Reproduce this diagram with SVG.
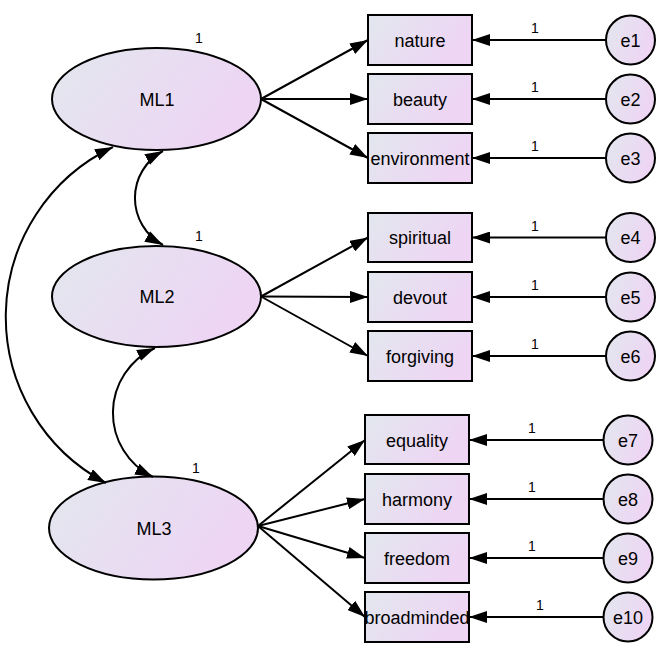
<svg xmlns="http://www.w3.org/2000/svg" width="664" height="651" viewBox="0 0 664 651">
<defs>
<linearGradient id="g" x1="0" y1="0" x2="1" y2="0.35">
<stop offset="0" stop-color="#e2e7ee"/>
<stop offset="1" stop-color="#eed5f4"/>
</linearGradient>
<marker id="ah" markerUnits="userSpaceOnUse" markerWidth="18" markerHeight="12" refX="18" refY="6" orient="auto-start-reverse" viewBox="0 0 18 12">
<path d="M0,0 L18,6 L0,12 z" fill="#000"/>
</marker>
<style>
.lat{fill:url(#g);stroke:#000;stroke-width:2}
.box{fill:url(#g);stroke:#000;stroke-width:2}
.err{fill:url(#g);stroke:#000;stroke-width:2}
.t{font-family:"Liberation Sans",Arial,sans-serif;font-size:18px;fill:#000;text-anchor:middle}
.n{font-family:"Liberation Sans",Arial,sans-serif;font-size:14px;fill:#000;text-anchor:middle}
.c{fill:none;stroke:#000;stroke-width:2}
.a{fill:none;stroke:#000;stroke-width:2;marker-end:url(#ah)}
.d{fill:none;stroke:#000;stroke-width:2;marker-start:url(#ah);marker-end:url(#ah)}
</style>
</defs>
<g id="nodes">
<g id="ML1"><ellipse class="lat" cx="156.5" cy="99" rx="104.5" ry="51"/><text class="t" x="157" y="105.5">ML1</text><text class="n" x="199" y="43">1</text></g>
<g id="ML2"><ellipse class="lat" cx="156.5" cy="296.5" rx="104.5" ry="50.5"/><text class="t" x="157" y="303">ML2</text><text class="n" x="199" y="241">1</text></g>
<g id="ML3"><ellipse class="lat" cx="153.5" cy="528" rx="104.5" ry="51.5"/><text class="t" x="154" y="534.5">ML3</text><text class="n" x="196" y="473">1</text></g>

<g id="nature"><rect class="box" x="368" y="15" width="104" height="50"/><text class="t" x="420" y="46.5">nature</text></g>
<g id="beauty"><rect class="box" x="368" y="74" width="104" height="50"/><text class="t" x="420" y="105.5">beauty</text></g>
<g id="environment"><rect class="box" x="368" y="133" width="104" height="50"/><text class="t" x="420" y="164.5">environment</text></g>
<g id="spiritual"><rect class="box" x="368" y="213" width="104" height="49"/><text class="t" x="420" y="244">spiritual</text></g>
<g id="devout"><rect class="box" x="368" y="272" width="104" height="50"/><text class="t" x="420" y="303.5">devout</text></g>
<g id="forgiving"><rect class="box" x="368" y="331" width="104" height="50"/><text class="t" x="420" y="362.5">forgiving</text></g>
<g id="equality"><rect class="box" x="365" y="415" width="104" height="49"/><text class="t" x="417" y="446.5">equality</text></g>
<g id="harmony"><rect class="box" x="365" y="474" width="104" height="50"/><text class="t" x="417" y="505.5">harmony</text></g>
<g id="freedom"><rect class="box" x="365" y="533" width="104" height="50"/><text class="t" x="417" y="564.5">freedom</text></g>
<g id="broadminded"><rect class="box" x="365" y="592" width="104" height="50"/><text class="t" x="417" y="623.5">broadminded</text></g>

<g id="e1"><circle class="err" cx="630.5" cy="40" r="24.5"/><text class="t" x="630.5" y="46.5">e1</text></g>
<g id="e2"><circle class="err" cx="630.5" cy="99" r="24.5"/><text class="t" x="630.5" y="105.5">e2</text></g>
<g id="e3"><circle class="err" cx="630.5" cy="158" r="24.5"/><text class="t" x="630.5" y="164.5">e3</text></g>
<g id="e4"><circle class="err" cx="630.5" cy="237.5" r="24.5"/><text class="t" x="630.5" y="244">e4</text></g>
<g id="e5"><circle class="err" cx="630.5" cy="297" r="24.5"/><text class="t" x="630.5" y="303.5">e5</text></g>
<g id="e6"><circle class="err" cx="630.5" cy="356" r="24.5"/><text class="t" x="630.5" y="362.5">e6</text></g>
<g id="e7"><circle class="err" cx="628" cy="440" r="24.5"/><text class="t" x="628" y="446.5">e7</text></g>
<g id="e8"><circle class="err" cx="628" cy="499" r="24.5"/><text class="t" x="628" y="505.5">e8</text></g>
<g id="e9"><circle class="err" cx="628" cy="558" r="24.5"/><text class="t" x="628" y="564.5">e9</text></g>
<g id="e10"><circle class="err" cx="628" cy="617" r="24.5"/><text class="t" x="628" y="623.5">e10</text></g>
</g>
<g id="connectors">
<line class="a" x1="261" y1="99" x2="368" y2="40"/>
<line class="a" x1="261" y1="99" x2="368" y2="99"/>
<line class="a" x1="261" y1="99" x2="368" y2="158"/>
<line class="a" x1="261" y1="296.5" x2="368" y2="237.5"/>
<line class="a" x1="261" y1="296.5" x2="368" y2="297"/>
<line class="a" x1="261" y1="296.5" x2="368" y2="356"/>
<line class="a" x1="258" y1="526" x2="365" y2="440"/>
<line class="a" x1="258" y1="526" x2="365" y2="499"/>
<line class="a" x1="258" y1="526" x2="365" y2="558"/>
<line class="a" x1="258" y1="526" x2="365" y2="617"/>

<line class="a" x1="606" y1="40" x2="472" y2="40"/>
<line class="a" x1="606" y1="99" x2="472" y2="99"/>
<line class="a" x1="606" y1="158" x2="472" y2="158"/>
<line class="a" x1="606" y1="237.5" x2="472" y2="237.5"/>
<line class="a" x1="606" y1="297" x2="472" y2="297"/>
<line class="a" x1="606" y1="356" x2="472" y2="356"/>
<line class="a" x1="603.5" y1="440" x2="469" y2="440"/>
<line class="a" x1="603.5" y1="499" x2="469" y2="499"/>
<line class="a" x1="603.5" y1="558" x2="469" y2="558"/>
<line class="a" x1="603.5" y1="617" x2="469" y2="617"/>

<text class="n" x="535" y="33">1</text>
<text class="n" x="535" y="92">1</text>
<text class="n" x="535" y="151">1</text>
<text class="n" x="535" y="230.5">1</text>
<text class="n" x="535" y="290">1</text>
<text class="n" x="535" y="349">1</text>
<text class="n" x="532" y="433">1</text>
<text class="n" x="532" y="492">1</text>
<text class="n" x="532" y="551">1</text>
<text class="n" x="540" y="610">1</text>

<path class="d" d="M163,151 A53.4,53.4 0 0 0 163,245"/>
<path class="d" d="M155,348 A71.2,71.2 0 0 0 153,477"/>
<path class="d" d="M113,147 A188,188 0 0 0 106,483"/>
</g>
</svg>
